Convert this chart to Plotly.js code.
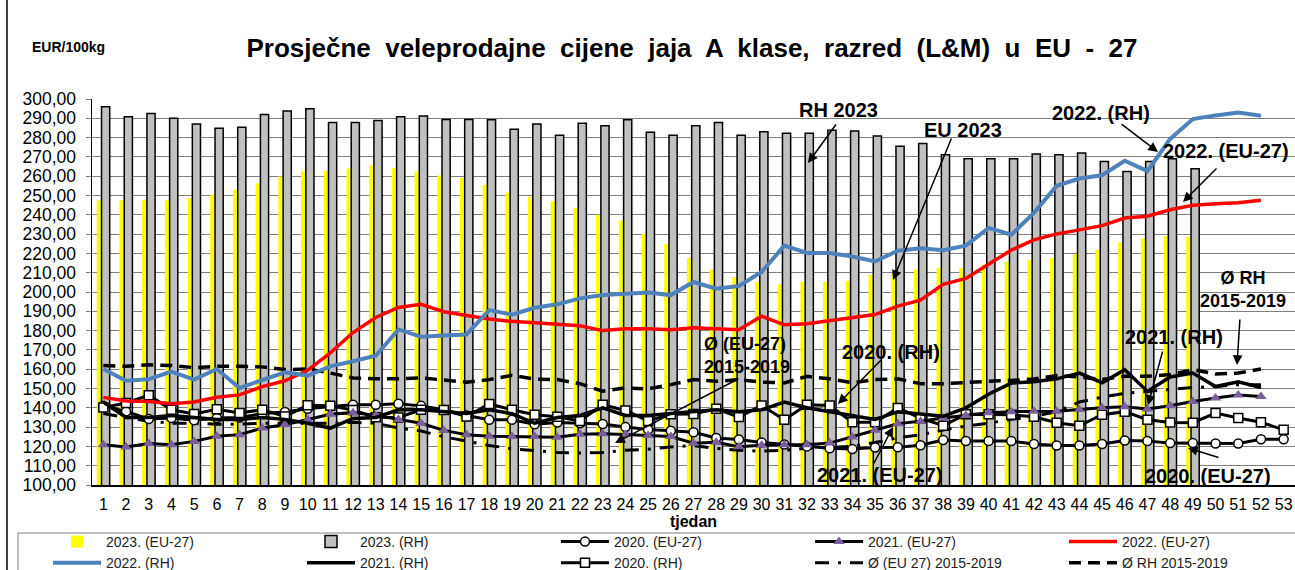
<!DOCTYPE html>
<html><head><meta charset="utf-8">
<script src="https://cdn.plot.ly/plotly-3.0.1.min.js"></script>
<style>html,body{margin:0;padding:0;background:#fff;} #chart{width:1295px;height:570px;}</style>
</head><body><div id="chart"></div><script>
// ---- data ----
const weeks49 = [1,2,3,4,5,6,7,8,9,10,11,12,13,14,15,16,17,18,19,20,21,22,23,24,25,26,27,28,29,30,31,32,33,34,35,36,37,38,39,40,41,42,43,44,45,46,47,48,49];
const weeks52 = [1,2,3,4,5,6,7,8,9,10,11,12,13,14,15,16,17,18,19,20,21,22,23,24,25,26,27,28,29,30,31,32,33,34,35,36,37,38,39,40,41,42,43,44,45,46,47,48,49,50,51,52];
const weeks53 = [1,2,3,4,5,6,7,8,9,10,11,12,13,14,15,16,17,18,19,20,21,22,23,24,25,26,27,28,29,30,31,32,33,34,35,36,37,38,39,40,41,42,43,44,45,46,47,48,49,50,51,52,53];

const eu2023 = [247.5,247.5,247.8,247.5,248.7,250.4,253,256.3,259.8,262.4,262.8,264,265.7,264.2,262.4,260.3,259.1,255.6,251.5,249.4,247,243.7,240,237.1,230.1,224.9,217.7,211.7,207.8,205.2,204,205.2,205.2,205.7,209,209.9,211.7,212.5,212.5,214,215.7,216.7,217.7,219.5,221.9,225.6,227.7,229,228.5];
const rh2023 = [296,290.8,292.5,290,287,284.8,285.4,292,293.8,295,287.8,287.8,288.8,290.8,291.2,289.4,289.4,289.2,284.3,287,281.2,287.4,286.2,289.2,282.8,281.2,286.2,287.8,281.2,283,282.2,282.2,283.8,283.4,280.8,275.5,277,271.1,269,269,269,271.5,271.1,272,267.6,262.4,267.6,269,263.8];

const rh2022 = [160.1,154,154.8,158.8,154.6,160.1,150.3,154.6,158.4,156.7,161.5,164.1,167,180.6,176.8,177.5,178,190.6,188.3,191.8,193.6,196.7,198.4,199.1,199.8,198.4,205.2,201.7,203.1,210.4,224,220.2,220.2,218.4,215.8,221.4,222.6,221.7,224,233.2,229.7,241,255,258.8,260.5,268,262.6,279.3,289.6,291.5,293,291.3];
const eu2022 = [145.4,143.5,143.3,142.1,143,145.5,146.7,151,154,159.4,168.5,179,186.8,192,193.6,189.8,187.8,186,184.8,184,183,182.5,180,181,181,180.5,181.5,181,180.5,187.5,183,183.5,185,186.7,188.3,192.7,195.8,204,207,214.4,221.7,227,230.1,232.2,234.4,238.3,239.3,242.6,244.9,245.7,246.3,247.5];
const rh2021 = [143,135,135,136,135,134,134,135,134,132,129.5,134.5,135,139,139,138,137,139,137,132,135,136,140,136,136,137,138,139,138,139,143,140,138,136,134,138,137,135.6,140,147,152.8,153.5,155,158,153,159.7,148.5,156,158,151,153.5,150.5];
const eu2021 = [120.9,119.7,121.5,120.9,122.6,125.2,126.1,129.5,131.2,134,136.6,137.5,136,134,132,128.3,126,125.3,125.1,125.1,124.8,126.3,126.5,126.2,125.7,125.1,121.6,122.1,119.8,120.6,120.9,120.9,121.7,124.9,128.4,131.8,133,134.7,136,137.5,138,138.2,138.2,139.1,140,140.5,139.4,141.1,143.3,145.1,146.6,145.9];
const eu2020 = [141,138.1,134.2,134.7,133.5,134.7,135,137,137.8,139.5,140.7,141.6,141.6,142.1,141,139,136,133.8,133.8,131.5,132.4,132,131.6,130,128.8,128.1,127.3,124.4,123.6,122,121,120,119,118.6,119.4,119.6,120.6,123.3,122.8,122.8,122.8,121.2,120.5,120.5,121.2,123.1,122.8,121.7,121.7,121.5,121.5,123.7,123.7];
const rh2020 = [140.2,142.5,146.5,139,136.8,139.2,137.3,139,135.5,141.3,141.1,138.8,135.1,135,139,138.8,135.5,142,139,136.4,135.4,133.2,141.6,138.6,133.2,136.6,136.8,139.5,135.2,141.2,133.8,141.6,141.2,132.5,132.5,139.9,134.6,130.7,136.6,136.6,136.4,135.4,132.3,130.7,136.4,138,133.8,132.4,132.3,137.3,134.7,132.5,128.6];
const avgEU = [137,135,133,132,132,131.5,131.5,132,132,132,132,132.5,132,129.5,128,125,122.8,120.5,118.8,117.8,116.8,116.6,116.8,118,118.5,119.7,120.4,119,118,117.5,118,119,119.5,120,122,124.5,126,128.5,130.5,132,134,135.5,138,143,145.5,147.5,148.5,149.5,150.5,151,152,152];
const avgRH = [161.9,161.5,162.3,161.9,160.8,161.5,161.5,161.2,159.8,160.1,158,155.5,155,155,155.5,154.6,153.3,154.6,156.8,154.9,154.6,152.5,148.6,150.3,149.8,152,154.6,153.7,154.6,153.3,152.9,156.3,155,153,154.6,155,152.5,152.5,152.9,153.7,154.2,154.9,156.7,156,154.6,156.3,156.3,157.2,159.8,157.5,158,160.1];

const names = ['2023. (EU-27)','2023. (RH)','2020. (EU-27)','2021. (EU-27)','2022. (EU-27)','2022. (RH)','2021. (RH)','2020. (RH)','Ø (EU 27) 2015-2019','Ø RH 2015-2019'];

// ---- layout helpers (pixels -> paper) ----
const L = 92, W = 1203, B = 485, H = 386;
const px = v => (v - L) / W;
const py = v => (B - v) / H;

const F = 'Liberation Sans, Arial, sans-serif';

const traces = [
  {type:'bar', name:names[0], x:weeks49, y:eu2023, width:0.21, offset:-0.29,
   marker:{color:'#FFFF00', line:{width:0}}, legendrank:1},
  {type:'bar', name:names[1], x:weeks49, y:rh2023, width:0.36, offset:-0.08,
   marker:{color:'#C0C0C0', line:{color:'#000', width:1.5}}, legendrank:2},
  {type:'scatter', mode:'lines', name:names[9], x:weeks52, y:avgRH,
   line:{color:'#000', width:3.5, dash:'12px,7px'}, legendrank:10},
  {type:'scatter', mode:'lines', name:names[8], x:weeks52, y:avgEU,
   line:{color:'#000', width:3, dash:'14px,9px,3px,9px'}, legendrank:9},
  {type:'scatter', mode:'lines+markers', name:names[2], x:weeks53, y:eu2020,
   line:{color:'#000', width:3}, marker:{symbol:'circle', size:9, color:'#fff', line:{color:'#000', width:1.5}}, legendrank:3},
  {type:'scatter', mode:'lines+markers', name:names[7], x:weeks53, y:rh2020,
   line:{color:'#000', width:3}, marker:{symbol:'square', size:9, color:'#fff', line:{color:'#000', width:1.5}}, legendrank:8},
  {type:'scatter', mode:'lines+markers', name:names[3], x:weeks52, y:eu2021,
   line:{color:'#000', width:3}, marker:{symbol:'triangle-up', size:10, color:'#7A5E9E', line:{width:0}}, legendrank:4},
  {type:'scatter', mode:'lines', name:names[6], x:weeks52, y:rh2021,
   line:{color:'#000', width:3.5}, legendrank:7},
  {type:'scatter', mode:'lines', name:names[4], x:weeks52, y:eu2022,
   line:{color:'#FF0000', width:3.5}, legendrank:5},
  {type:'scatter', mode:'lines', name:names[5], x:weeks52, y:rh2022,
   line:{color:'#4F81BD', width:4}, legendrank:6}
];

function txt(text, x, y, xa, size) {
  return {text:text, xref:'paper', yref:'paper', x:px(x), y:py(y), xanchor:xa||'center', yanchor:'middle',
    showarrow:false, font:{family:F, size:size||20, color:'#000', weight:'bold'}, align:(xa==='left'?'left':'center')};
}
function arr(tx, ty, hx, hy) {
  return {text:'', xref:'paper', yref:'paper', x:px(hx), y:py(hy), ax:tx-hx, ay:ty-hy,
    showarrow:true, arrowhead:2, arrowsize:1.3, arrowwidth:1.5, arrowcolor:'#000', standoff:0, startstandoff:0};
}

const annotations = [
  {text:'EUR/100kg', xref:'paper', yref:'paper', x:px(30), y:py(47), xanchor:'left', yanchor:'middle',
   showarrow:false, font:{family:F, size:14, color:'#000', weight:'bold'}},
  txt('RH 2023', 797, 110, 'left'),
  txt('EU 2023', 922, 130, 'left'),
  txt('2022. (RH)', 1050, 113, 'left'),
  txt('2022. (EU-27)', 1161, 151, 'left'),
  txt('Ø RH<br>2015-2019', 1243, 289, 'center', 18),
  txt('Ø (EU-27)<br>2015-2019', 702, 356, 'left', 18),
  txt('2020. (RH)', 840, 352, 'left'),
  txt('2021. (RH)', 1123, 337, 'left'),
  txt('2021. (EU-27)', 815, 475, 'left'),
  txt('2020. (EU-27)', 1143, 476, 'left'),
  arr(837,123, 808,163),
  arr(952,137, 893,280),
  arr(1120,123, 1158,152),
  arr(1218,167, 1183,202),
  arr(1240,318, 1237,365),
  arr(740,378, 615,443),
  arr(883,358, 838,404),
  arr(1163,350, 1148,405),
  arr(873,465, 893,427),
  arr(1220,458, 1188,448)
];

const layout = {
  width:1295, height:570,
  margin:{l:L, r:1295-L-W, t:B-H, b:570-B, autoexpand:false},
  paper_bgcolor:'#fff', plot_bgcolor:'#fff',
  separators:',.',
  barmode:'overlay',
  showlegend:true,
  font:{family:F, color:'#000'},
  title:{text:'Prosječne  veleprodajne  cijene  jaja  A  klase,  razred  (L&M)  u  EU  -  27',
    xref:'container', yref:'container', x:692/1295, y:1-48/570, xanchor:'center', yanchor:'middle',
    font:{family:F, size:26, color:'#000', weight:'bold'}},
  xaxis:{range:[0.5,53.5], tickmode:'linear', tick0:1, dtick:1, tickangle:0, showgrid:false, zeroline:false,
    showline:true, linecolor:'#000', linewidth:1.5, ticks:'', ticklabelstandoff:4,
    tickfont:{family:F, size:16, color:'#000'},
    title:{text:'tjedan', font:{family:F, size:16, color:'#000', weight:'bold'}, standoff:4}},
  yaxis:{range:[100,300], tickmode:'linear', tick0:100, dtick:10, tickformat:'.2f',
    showgrid:true, gridcolor:'#7f7f7f', gridwidth:1, zeroline:false,
    showline:true, linecolor:'#000', linewidth:1.5, ticks:'outside', ticklen:5, tickcolor:'#7f7f7f',
    ticklabelstandoff:6, tickfont:{family:F, size:17.5, color:'#000'}},
  legend:{orientation:'h', x:px(48), xanchor:'left', y:py(526), yanchor:'top',
    entrywidth:191, entrywidthmode:'pixels', itemwidth:48, traceorder:'normal',
    borderwidth:0, bgcolor:'rgba(0,0,0,0)',
    font:{family:F, size:14, color:'#222'}, tracegroupgap:0},
  annotations:annotations,
  shapes:[
    {type:'line', xref:'paper', yref:'paper', x0:px(7), x1:px(7), y0:py(0), y1:py(570), line:{color:'#000', width:1.5}},
    {type:'rect', xref:'paper', yref:'paper', x0:px(18), x1:px(1310), y0:py(533), y1:py(580), line:{color:'#808080', width:1}, fillcolor:'rgba(0,0,0,0)'}
  ]
};

Plotly.newPlot('chart', traces, layout, {displayModeBar:false, staticPlot:true});
</script></body></html>
